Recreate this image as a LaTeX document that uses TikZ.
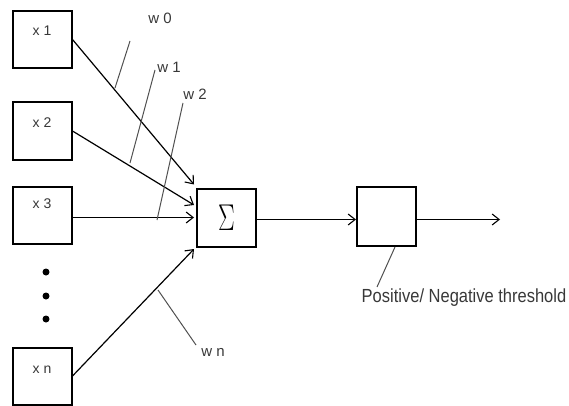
\documentclass[tikz,border=0pt]{standalone}
\usepackage{fontspec}
\setmainfont{Liberation Sans}
\usetikzlibrary{arrows.meta}
\definecolor{lbl}{HTML}{383838}
\definecolor{wline}{HTML}{505050}
\begin{document}
\begin{tikzpicture}[x=1pt,y=-1pt,
  box/.style={draw=black,line width=2pt,minimum width=59pt,minimum height=57pt,inner sep=0pt,fill=white},
  conn/.style={line width=1.2pt,-{Straight Barb[length=7pt,width=11pt,line width=1.1pt]}},
  wl/.style={draw=wline,line width=1pt},
  xlbl/.style={text=lbl,font=\fontsize{14}{14}\selectfont,inner sep=0pt},
  wlbl/.style={text=lbl,font=\fontsize{15}{15}\selectfont,inner sep=0pt},
  dotn/.style={circle,fill=black,inner sep=0pt,minimum size=7pt}]
\useasboundingbox (0,0) rectangle (569,406);
% input boxes
\node[box] (x1) at (42,39.5) {};
\node[box] (x2) at (42,131) {};
\node[box] (x3) at (42,215.5) {};
\node[box] (xn) at (42,376) {};
\node[xlbl] (x1t) at (42,31) {x 1};
\node[xlbl] (x2t) at (42,123) {x 2};
\node[xlbl] (x3t) at (42,204) {x 3};
\node[xlbl] (xnt) at (42,370) {x n};
% dots
\node[dotn] (d1) at (46,272) {};
\node[dotn] (d2) at (46,296) {};
\node[dotn] (d3) at (46,319) {};
% summation and threshold
\node[box,minimum height=58pt] (sum) at (226.5,217.5) {\fontsize{23}{23}\selectfont\scalebox{1}[1.5]{$\Sigma$}};
\node[box,minimum height=59pt] (thr) at (386.5,216.5) {};
\coordinate (out) at (500,219.5);
% connectors
\draw[conn] (x1.east) -- ([xshift=-2pt,yshift=3pt]sum.north west);
\draw[conn] (x2.east) -- ([xshift=-2pt,yshift=12.5pt]sum.west);
\draw[conn] ([yshift=-2pt]x3.east) -- ([xshift=-2pt]sum.west);
\draw[conn] (xn.east) -- ([xshift=-2pt,yshift=-1.5pt]sum.south west);
\draw[conn] ([yshift=-2pt]sum.east) -- ([yshift=-3pt]thr.west);
\draw[conn] ([yshift=-3pt]thr.east) -- (out);
% weights
\node[wlbl] (w0) at (160,18.5) {w 0};
\node[wlbl] (w1) at (169,67) {w 1};
\node[wlbl] (w2) at (195,94) {w 2};
\node[wlbl] (wn) at (213,352) {w n};
\coordinate (w0a) at (130,41);  \coordinate (w0b) at (115,88);
\coordinate (w1a) at (155,70);  \coordinate (w1b) at (130,163);
\coordinate (w2a) at (183,103); \coordinate (w2b) at (157,220);
\coordinate (wna) at (158,290); \coordinate (wnb) at (196,345);
\draw[wl] (w0a) -- (w0b);
\draw[wl] (w1a) -- (w1b);
\draw[wl] (w2a) -- (w2b);
\draw[wl] (wna) -- (wnb);
% threshold label
\node[text=lbl,inner sep=0pt] (thrl) at (464,298) {\fontsize{16.5}{17}\selectfont\scalebox{1}[1.15]{Positive/ Negative threshold}};
\coordinate (tla) at (377,287);
\draw[wl] ([xshift=8.5pt]thr.south) -- (tla);
\end{tikzpicture}
\end{document}
